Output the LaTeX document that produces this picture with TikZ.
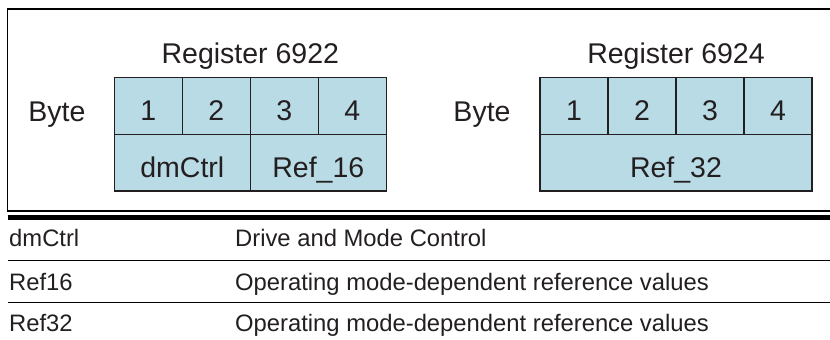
\documentclass[tikz,border=0pt]{standalone}
\usepackage{fontspec}
\setmainfont{Liberation Sans}
\definecolor{cellblue}{RGB}{185,219,230}
\definecolor{ink}{RGB}{35,31,32}
\begin{document}
\begin{tikzpicture}[x=1pt,y=-1pt,
  cell/.style={draw=ink, line width=1.4pt, fill=cellblue, minimum height=56.6pt, inner sep=0pt, outer sep=0pt},
  byte/.style={cell, minimum width=68pt},
  big/.style={font=\fontsize{28.5}{30}\selectfont, text=ink, inner sep=0pt, anchor=base},
  tab/.style={font=\fontsize{23.8}{26}\selectfont, text=ink, inner sep=0pt, anchor=base west},
  rule/.style={draw=black, line width=1.3pt},
]
\useasboundingbox (0,0) rectangle (830,340);
\fill[white] (0,0) rectangle (830,340);
% outer frame (open to the right)
\draw[rule] (831,9) -- (7.5,9) -- (7.5,211) -- (831,211);

% register 6922
\node[big] (r1) at (250.3,63.3) {Register 6922};
\node[big] (by1) at (57,121) {Byte};
\node[byte] (a1) at (148.3,106) {};
\node[byte] (a2) at (216.3,106) {};
\node[byte] (a3) at (284.3,106) {};
\node[byte] (a4) at (352.3,106) {};
\node[cell, minimum width=136pt] (am) at (182.3,162.5) {};
\node[cell, minimum width=136pt] (ar) at (318.3,162.5) {};
\node[big] (a1t) at ([yshift=-14.5pt]a1.center) {1};
\node[big] (a2t) at ([yshift=-14.5pt]a2.center) {2};
\node[big] (a3t) at ([yshift=-14.5pt]a3.center) {3};
\node[big] (a4t) at ([yshift=-14.5pt]a4.center) {4};
\node[big] (amt) at ([yshift=-14.5pt]am.center) {dmCtrl};
\node[big] (art) at ([yshift=-14.5pt]ar.center) {Ref\_16};

% register 6924
\node[big] (r2) at (676,63.3) {Register 6924};
\node[big] (by2) at (482,121) {Byte};
\node[byte] (b1) at (574,106) {};
\node[byte] (b2) at (642,106) {};
\node[byte] (b3) at (710,106) {};
\node[byte] (b4) at (778,106) {};
\node[cell, minimum width=272pt] (br) at (676,162.5) {};
\node[big] (b1t) at ([yshift=-14.5pt]b1.center) {1};
\node[big] (b2t) at ([yshift=-14.5pt]b2.center) {2};
\node[big] (b3t) at ([yshift=-14.5pt]b3.center) {3};
\node[big] (b4t) at ([yshift=-14.5pt]b4.center) {4};
\node[big] (brt) at ([yshift=-14.5pt]br.center) {Ref\_32};

% legend table
\draw[black, line width=5pt] (7.5,217.5) -- (831,217.5);
\draw[black, line width=1.2pt] (7.5,260.3) -- (831,260.3);
\draw[black, line width=1.2pt] (7.5,302.3) -- (831,302.3);
\node[tab] (k1) at (9,246.7) {dmCtrl};
\node[tab] (v1) at (235,246.7) {Drive and Mode Control};
\node[tab] (k2) at (9,290) {Ref16};
\node[tab] (v2) at (235,290) {Operating mode-dependent reference values};
\node[tab] (k3) at (9,331.7) {Ref32};
\node[tab] (v3) at (235,331.7) {Operating mode-dependent reference values};
\end{tikzpicture}
\end{document}
